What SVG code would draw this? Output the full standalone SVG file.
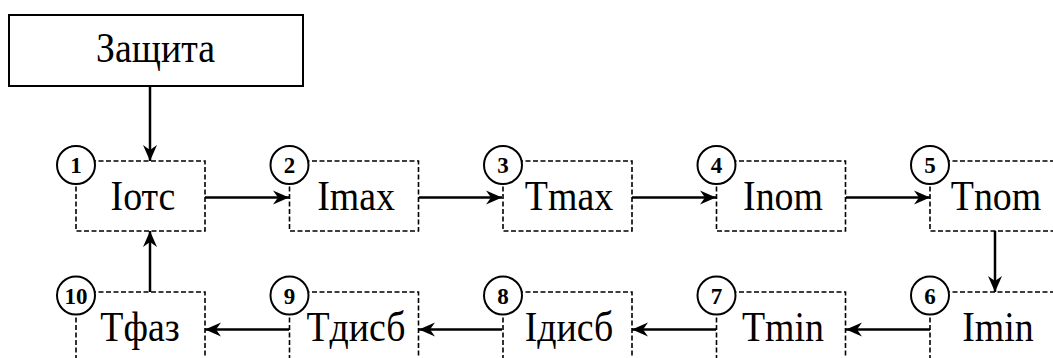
<svg xmlns="http://www.w3.org/2000/svg" width="1053" height="358" viewBox="0 0 1053 358">
<style>
.box{fill:none;stroke:#000;stroke-width:1.6;stroke-dasharray:5 2.5}
.solid{fill:#fff;stroke:#000;stroke-width:2}
.lbl{font-family:"Liberation Serif","Times New Roman",serif;font-size:43px;text-anchor:middle;fill:#000}
.num{font-family:"Liberation Serif","Times New Roman",serif;font-size:23px;font-weight:bold;text-anchor:middle;fill:#000}
.circ{fill:#fff;stroke:#000;stroke-width:2}
.con{fill:none;stroke:#000;stroke-width:2.5}
</style>
<defs>
<marker id="ah" markerUnits="userSpaceOnUse" markerWidth="20" markerHeight="16" viewBox="-18 -8 20 16" refX="0" refY="0" orient="auto">
<path d="M0,0 L-16,-7 L-11,0 L-16,7 Z" fill="#000"/>
</marker>
</defs>
<rect width="1053" height="358" fill="#fff"/>
<g id="n0">
<rect class="solid" x="9" y="15" width="294" height="71"/>
<text class="lbl" transform="translate(155.5,62) scale(0.88,1)">Защита</text>
</g>
<g id="connectors">
<line class="con" x1="150" y1="86" x2="150" y2="161" marker-end="url(#ah)"/>
<line class="con" x1="205" y1="197.5" x2="289" y2="197.5" marker-end="url(#ah)"/>
<line class="con" x1="419" y1="197.5" x2="502" y2="197.5" marker-end="url(#ah)"/>
<line class="con" x1="632" y1="197.5" x2="716" y2="197.5" marker-end="url(#ah)"/>
<line class="con" x1="846" y1="197.5" x2="930" y2="197.5" marker-end="url(#ah)"/>
<line class="con" x1="995" y1="231" x2="995" y2="292" marker-end="url(#ah)"/>
<line class="con" x1="930" y1="329.5" x2="846" y2="329.5" marker-end="url(#ah)"/>
<line class="con" x1="716" y1="329.5" x2="632" y2="329.5" marker-end="url(#ah)"/>
<line class="con" x1="502" y1="329.5" x2="419" y2="329.5" marker-end="url(#ah)"/>
<line class="con" x1="289" y1="329.5" x2="205" y2="329.5" marker-end="url(#ah)"/>
<line class="con" x1="150" y1="292" x2="150" y2="231" marker-end="url(#ah)"/>
</g>
<g id="n1"><rect class="box" x="76" y="161" width="129" height="70"/><text class="lbl" transform="translate(143,210) scale(0.88,1)">Iотс</text><circle class="circ" cx="76" cy="165" r="19"/><text class="num" x="76" y="173">1</text></g>
<g id="n2"><rect class="box" x="289.5" y="161" width="129" height="70"/><text class="lbl" transform="translate(356,210) scale(0.88,1)">Imax</text><circle class="circ" cx="289.5" cy="165" r="19"/><text class="num" x="289.5" y="173">2</text></g>
<g id="n3"><rect class="box" x="503" y="161" width="129" height="70"/><text class="lbl" transform="translate(569,210) scale(0.88,1)">Tmax</text><circle class="circ" cx="503" cy="165" r="19"/><text class="num" x="503" y="173">3</text></g>
<g id="n4"><rect class="box" x="716.5" y="161" width="129" height="70"/><text class="lbl" transform="translate(783,210) scale(0.88,1)">Inom</text><circle class="circ" cx="716.5" cy="165" r="19"/><text class="num" x="716.5" y="173">4</text></g>
<g id="n5"><rect class="box" x="930" y="161" width="129" height="70"/><text class="lbl" transform="translate(996,210) scale(0.88,1)">Tnom</text><circle class="circ" cx="930" cy="165" r="19"/><text class="num" x="930" y="173">5</text></g>
<g id="n6"><rect class="box" x="930" y="292" width="129" height="70"/><text class="lbl" transform="translate(998,341) scale(0.88,1)">Imin</text><circle class="circ" cx="930" cy="295.5" r="19"/><text class="num" x="930" y="303.5">6</text></g>
<g id="n7"><rect class="box" x="716.5" y="292" width="129" height="70"/><text class="lbl" transform="translate(783,341) scale(0.88,1)">Tmin</text><circle class="circ" cx="716.5" cy="295.5" r="19"/><text class="num" x="716.5" y="303.5">7</text></g>
<g id="n8"><rect class="box" x="503" y="292" width="129" height="70"/><text class="lbl" transform="translate(569,341) scale(0.88,1)">Iдисб</text><circle class="circ" cx="503" cy="295.5" r="19"/><text class="num" x="503" y="303.5">8</text></g>
<g id="n9"><rect class="box" x="289.5" y="292" width="129" height="70"/><text class="lbl" transform="translate(356,341) scale(0.88,1)">Tдисб</text><circle class="circ" cx="289.5" cy="295.5" r="19"/><text class="num" x="289.5" y="303.5">9</text></g>
<g id="n10"><rect class="box" x="76" y="292" width="129" height="70"/><text class="lbl" transform="translate(140,341) scale(0.88,1)">Tфаз</text><circle class="circ" cx="76" cy="295.5" r="19"/><text class="num" x="76" y="303.5">10</text></g>
</svg>
